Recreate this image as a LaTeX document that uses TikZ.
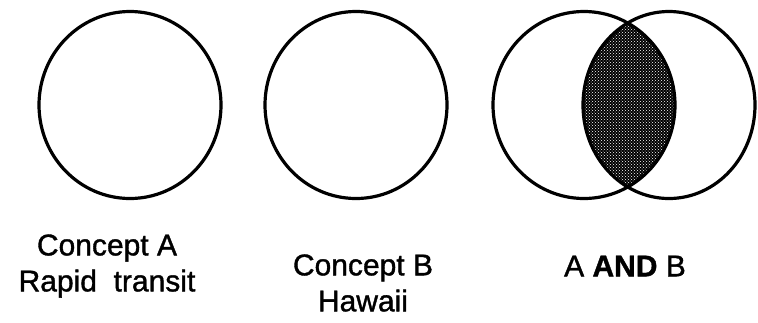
\documentclass[tikz,border=0pt]{standalone}
\usepackage{fontspec}
\setmainfont{Liberation Sans}
\newfontfamily\capfont[FakeBold=1.2]{Liberation Sans}
\usetikzlibrary{shapes.geometric,patterns}

\begin{document}
\begin{tikzpicture}[
        x=1pt, y=-1pt,
        concept/.style={ellipse, draw, line width=3.2pt, minimum width=182pt, minimum height=187pt, inner sep=0pt},
        caption/.style={align=center, font=\capfont\fontsize{30}{36}\selectfont, inner sep=0pt}
    ]
        \useasboundingbox (0,0) rectangle (758,322);

        % Overlap of the two concepts
        \begin{scope}
            \clip (584,105) ellipse [x radius=91pt, y radius=93.5pt];
            \fill[black] (669,105) ellipse [x radius=86pt, y radius=93.5pt];
            \fill[pattern=crosshatch dots, pattern color=white] (669,105) ellipse [x radius=86pt, y radius=93.5pt];
        \end{scope}

        % Circles
        \node[concept] (conceptA) at (130, 105) {};
        \node[concept] (conceptB) at (356, 105) {};
        \node[concept] (andA) at (584, 105) {};
        \node[concept, minimum width=172pt] (andB) at (669, 105) {};

        % Captions
        \node[caption] (labelA) at (107, 266) {Concept A\\Rapid\ \ transit};
        \node[caption] (labelB) at (363, 283) {Concept B\\Hawaii};
        \node[caption] (labelAB) at (625, 266) {A {\bfseries AND} B};
    \end{tikzpicture}
\end{document}
